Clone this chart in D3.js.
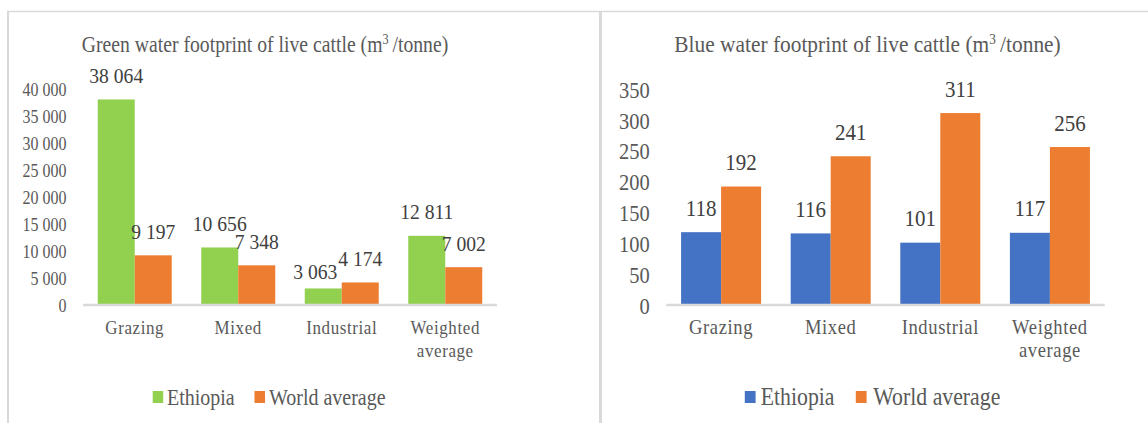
<!DOCTYPE html>
<html>
<head>
<meta charset="utf-8">
<script src="https://cdn.jsdelivr.net/npm/d3@7"></script>
<style>
  html, body { margin: 0; padding: 0; background: #fff; }
</style>
</head>
<body>
<svg id="chart" width="1148" height="423"></svg>
<script>
// Water footprint of live cattle: Ethiopia vs world average (m3/tonne)
const categories = ["Grazing", "Mixed", "Industrial", "Weighted average"];
const seriesNames = ["Ethiopia", "World average"];

const greenEthiopia = [38064, 10656, 3063, 12811];
const greenWorld = [9197, 7348, 4174, 7002];
const blueEthiopia = [118, 116, 101, 117];
const blueWorld = [192, 241, 311, 256];

const greenTicks = [0, 5000, 10000, 15000, 20000, 25000, 30000, 35000, 40000];
const blueTicks = [0, 50, 100, 150, 200, 250, 300, 350];

const FONT = "Liberation Serif";
const fmt = d3.formatLocale({ decimal: ".", thousands: " ", grouping: [3], currency: ["", ""] }).format(",d");

const SY = 1.12; // tall text proportions
const svg = d3.select("#chart");

// panel frames
const frame = "#d9d9d9";
svg.append("line").attr("x1", 7).attr("x2", 1148).attr("y1", 11.5).attr("y2", 11.5)
  .attr("stroke", frame).attr("stroke-width", 1.5);
svg.append("line").attr("x1", 8).attr("x2", 8).attr("y1", 11).attr("y2", 423)
  .attr("stroke", frame).attr("stroke-width", 2);
svg.append("line").attr("x1", 600.5).attr("x2", 600.5).attr("y1", 11).attr("y2", 423)
  .attr("stroke", frame).attr("stroke-width", 3);

function label(g, x, y, str, o) {
  const t = g.append("text")
    .attr("transform", `translate(${x},${y}) scale(1,${SY})`)
    .attr("text-anchor", o.anchor || "middle")
    .attr("font-family", FONT)
    .attr("font-size", o.size)
    .attr("fill", o.color)
    .text(str);
  if (o.ls) t.attr("letter-spacing", o.ls);
  return t;
}

function drawPanel(cfg) {
  const g = svg.append("g");
  const x = d3.scaleBand().domain(categories).range(cfg.xRange)
    .paddingInner(cfg.pad).paddingOuter(cfg.pad / 2);
  const xs = d3.scaleBand().domain(seriesNames).range([0, x.bandwidth()]);
  const y = d3.scaleLinear().domain(cfg.yDomain).range([305, 89]);
  const colors = d3.scaleOrdinal().domain(seriesNames).range(cfg.colors);

  // title
  label(g, cfg.titleX, 51.5, "", { size: cfg.fs.title, color: "#595959" })
    .call(t => {
      t.append("tspan").text(cfg.title);
      t.append("tspan").text("3").attr("font-size", cfg.fs.title * 0.62).attr("dy", -cfg.fs.title * 0.33);
      t.append("tspan").text("\u2009/tonne)").attr("dy", cfg.fs.title * 0.33);
    });

  // y axis labels
  const ax = g.append("g").attr("transform", `translate(${cfg.xRange[0]},0)`)
    .call(d3.axisLeft(y).tickValues(cfg.ticks).tickSize(0).tickPadding(16.5)
      .tickFormat(d => fmt(d)));
  ax.attr("font-family", FONT);
  ax.select(".domain").remove();
  ax.selectAll("text")
    .attr("font-family", FONT)
    .attr("font-size", cfg.fs.tick)
    .attr("fill", "#595959")
    .attr("dy", "0.36em")
    .attr("transform", `scale(1,${SY})`);

  // bars
  const rows = categories.map((c, i) => ({ c, vals: [cfg.a[i], cfg.b[i]] }));
  const grp = g.selectAll(".grp").data(rows).join("g")
    .attr("transform", d => `translate(${x(d.c)},0)`);
  grp.selectAll("rect").data(d => d.vals.map((v, j) => ({ s: seriesNames[j], v })))
    .join("rect")
    .attr("x", d => xs(d.s))
    .attr("width", xs.bandwidth())
    .attr("y", d => y(d.v))
    .attr("height", d => y(0) - y(d.v))
    .attr("fill", d => colors(d.s));

  // baseline
  g.append("line").attr("x1", cfg.xRange[0]).attr("x2", cfg.xRange[1])
    .attr("y1", y(0)).attr("y2", y(0)).attr("stroke", "#d9d9d9").attr("stroke-width", 2.5);

  // value labels
  rows.forEach((r, i) => {
    r.vals.forEach((v, j) => {
      const nudge = (cfg.nudge && cfg.nudge[`${i}-${j}`]) || [0, 0];
      const cx = x(r.c) + xs(seriesNames[j]) + xs.bandwidth() / 2 + nudge[0];
      label(g, cx, y(v) - 16.5 + nudge[1], fmt(v), { size: cfg.fs.value, color: "#404040" });
    });
  });

  // category labels
  categories.forEach(c => {
    const cx = x(c) + x.bandwidth() / 2;
    const words = c === "Weighted average" ? ["Weighted", "average"] : [c];
    words.forEach((w, k) => {
      label(g, cx, 334 + k * 22.5, w, { size: cfg.fs.cat, color: "#595959", ls: 0.6 });
    });
  });

  // legend
  const lg = g.append("g");
  seriesNames.forEach((s, j) => {
    lg.append("rect").attr("x", cfg.legend[j][0]).attr("y", 391)
      .attr("width", cfg.legendBox).attr("height", 12).attr("fill", colors(s));
    label(lg, cfg.legend[j][1], 405, s, { size: cfg.fs.legend, color: "#595959", anchor: "start" });
  });
}

drawPanel({
  title: "Green water footprint of live cattle  (m",
  titleX: 265,
  xRange: [83, 497],
  pad: 0.285,
  yDomain: [0, 40000],
  ticks: greenTicks,
  a: greenEthiopia, b: greenWorld,
  colors: ["#92d050", "#ed7d31"],
  fs: { title: 19.7, tick: 16, value: 19.6, cat: 17, legend: 20 },
  legend: [[152.7, 167], [254.5, 269]],
  legendBox: 10.5,
  nudge: { "2-0": [-8, 7] }
});

drawPanel({
  title: "Blue water footprint of live cattle (m",
  titleX: 867.5,
  xRange: [666.3, 1104.7],
  pad: 0.27,
  yDomain: [0, 350],
  ticks: blueTicks,
  a: blueEthiopia, b: blueWorld,
  colors: ["#4472c4", "#ed7d31"],
  fs: { title: 21.4, tick: 20.5, value: 21, cat: 18.6, legend: 21.8 },
  legend: [[744.8, 760.7], [855.8, 873.3]],
  legendBox: 10.8
});
</script>
</body>
</html>
